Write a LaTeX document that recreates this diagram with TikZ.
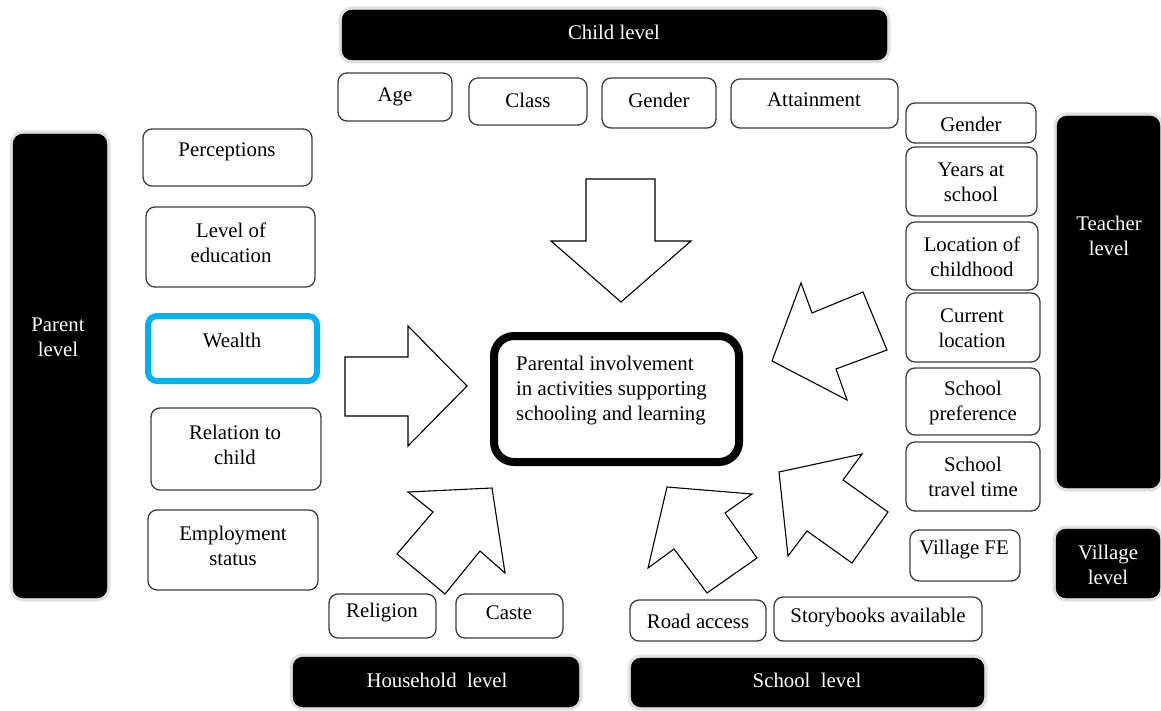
\documentclass[tikz,border=0pt]{standalone}
\usepackage{fontspec}
\setmainfont{Liberation Serif}
\definecolor{wealthblue}{RGB}{0,176,240}
\definecolor{boxline}{RGB}{60,60,60}
\begin{document}
\begin{tikzpicture}[x=1pt,y=-1pt,
  every node/.style={font=\fontsize{20.8}{25}\selectfont},
  wbox/.style={draw=boxline, line width=1.3pt, rounded corners=9pt, fill=white, inner sep=0pt},
  bbar/.style={fill=black, draw=black, rounded corners=10pt, inner sep=0pt,
     preaction={draw=black!12, line width=7pt, rounded corners=10pt}},
  txt/.style={inner sep=0pt, align=center, text=black},
  wtxt/.style={inner sep=0pt, align=center, text=white},
  barrow/.style={draw=black, line width=1.1pt, fill=white, line join=miter}]
\useasboundingbox (0,0) rectangle (1161,711);

% Child level
\node[bbar, minimum width=545pt, minimum height=50pt] (childbar) at (614.5,35) {};
\node[wtxt] (childlbl) at (614,32) {Child level};
\node[wbox, minimum width=114pt, minimum height=48pt] (age) at (395,97) {};
\node[txt] (agetxt) at (395,97) {Age};
\node[wbox, minimum width=118pt, minimum height=47pt] (class) at (528,101.5) {};
\node[txt] (classtxt) at (528,100) {Class};
\node[wbox, minimum width=114pt, minimum height=50pt] (cgender) at (659,103) {};
\node[txt] (cgendertxt) at (659,100) {Gender};
\node[wbox, minimum width=167pt, minimum height=49pt] (attain) at (814.5,103.5) {};
\node[txt] (attaintxt) at (814,100) {Attainment};

% Teacher level
\node[wbox, minimum width=130pt, minimum height=40pt] (tgender) at (971,123) {};
\node[txt] (tgendertxt) at (971,124) {Gender};
\node[wbox, minimum width=131pt, minimum height=69pt] (years) at (971.5,181.5) {};
\node[txt] (yearstxt) at (971,182) {Years at\\school};
\node[wbox, minimum width=132pt, minimum height=68pt] (locchild) at (972,256) {};
\node[txt] (locchildtxt) at (972,257) {Location of\\childhood};
\node[wbox, minimum width=134pt, minimum height=69pt] (curloc) at (973,327.5) {};
\node[txt] (curloctxt) at (972,328) {Current\\location};
\node[wbox, minimum width=134pt, minimum height=67pt] (pref) at (973,401.5) {};
\node[txt] (preftxt) at (973,403) {School\\preference};
\node[wbox, minimum width=134pt, minimum height=69pt] (travel) at (973,476.5) {};
\node[txt] (traveltxt) at (973,477) {School\\travel time};
\node[bbar, minimum width=103pt, minimum height=372pt] (teacherbar) at (1108.5,302) {};
\node[wtxt] (teacherlbl) at (1109,236) {Teacher\\level};

% Village level
\node[wbox, minimum width=110pt, minimum height=51pt] (villfe) at (965,555.5) {};
\node[txt] (villfetxt) at (964,550) {Village FE};
\node[bbar, minimum width=104pt, minimum height=69pt] (villbar) at (1108,563.5) {};
\node[wtxt] (villlbl) at (1108,565) {Village\\level};

% Parent level
\node[bbar, minimum width=94pt, minimum height=464pt] (parentbar) at (60,366) {};
\node[wtxt] (parentlbl) at (58,337) {Parent\\level};
\node[wbox, minimum width=169pt, minimum height=57pt] (percep) at (227.5,157.5) {};
\node[txt] (perceptxt) at (227,152) {Perceptions};
\node[wbox, minimum width=169pt, minimum height=80pt] (edu) at (230.5,247) {};
\node[txt] (edutxt) at (231,243) {Level of\\education};
\node[wbox, draw=wealthblue, line width=6pt, minimum width=169pt, minimum height=65pt] (wealth) at (232.5,348.5) {};
\node[txt] (wealthtxt) at (232,340) {Wealth};
\node[wbox, minimum width=170pt, minimum height=82pt] (relation) at (236,449) {};
\node[txt] (relationtxt) at (235,445) {Relation to\\child};
\node[wbox, minimum width=170pt, minimum height=80pt] (employ) at (233,550) {};
\node[txt] (employtxt) at (233,546) {Employment\\status};

% Household level
\node[wbox, minimum width=107pt, minimum height=44pt] (religion) at (382.5,616) {};
\node[txt] (religiontxt) at (382,613) {Religion};
\node[wbox, minimum width=107pt, minimum height=44pt] (caste) at (509.5,616) {};
\node[txt] (castetxt) at (509,613) {Caste};
\node[bbar, minimum width=286pt, minimum height=50pt] (housebar) at (436,682) {};
\node[wtxt] (houselbl) at (437,680) {Household~~level};

% School level
\node[wbox, minimum width=136pt, minimum height=41pt] (road) at (698,620.5) {};
\node[txt] (roadtxt) at (698,621) {Road access};
\node[wbox, minimum width=208pt, minimum height=44pt] (story) at (878,619) {};
\node[txt] (storytxt) at (878,618) {Storybooks available};
\node[bbar, minimum width=353pt, minimum height=49pt] (schoolbar) at (807.5,682.5) {};
\node[wtxt] (schoollbl) at (807,680) {School~~level};

% Central box
\node[draw=black, line width=8pt, rounded corners=20pt, fill=white, minimum width=245pt, minimum height=126pt, inner sep=0pt] (center) at (616.5,399) {};
\node[inner sep=0pt, align=left, anchor=west] (centertxt) at (516,391) {Parental involvement\\in activities supporting\\schooling and learning};

% Block arrows
\draw[barrow] (586,179) -- (655,179) -- (655,241) -- (691,241) -- (621,302) -- (551,241) -- (586,241) -- cycle;
\draw[barrow] (345,357) -- (408,357) -- (408,326) -- (467,386) -- (408,446) -- (408,416) -- (345,416) -- cycle;
\draw[barrow] (772,361) -- (801,283) -- (812,313) -- (863,292) -- (887,350) -- (836,369) -- (847,400) -- cycle;
\draw[barrow] (779,472) -- (862,454) -- (843,480) -- (888,512) -- (852,563) -- (807,531) -- (788,556) -- cycle;
\draw[barrow] (667,487) -- (752,494) -- (725,513) -- (757,558) -- (707,593) -- (674,549) -- (648,568) -- cycle;
\draw[barrow] (492,488) -- (505,573) -- (480,551) -- (445,594) -- (397,554) -- (433,512) -- (408,492) -- cycle;
\end{tikzpicture}
\end{document}
